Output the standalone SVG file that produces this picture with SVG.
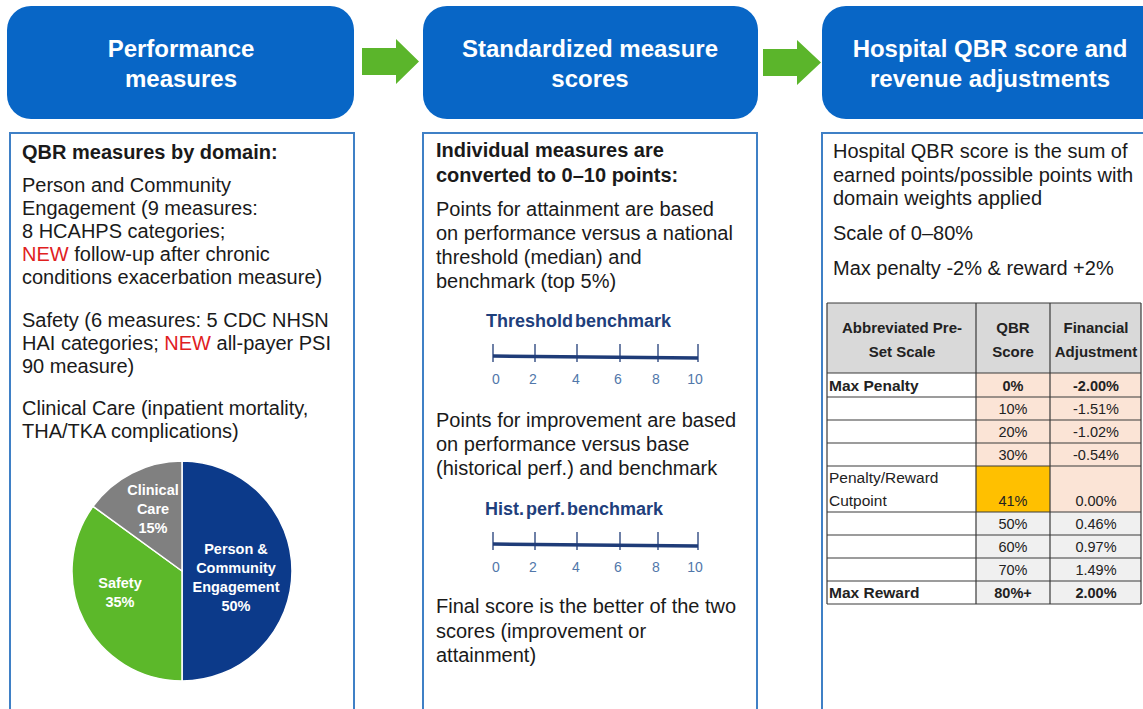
<svg xmlns="http://www.w3.org/2000/svg" width="1143" height="709" viewBox="0 0 1143 709">
<defs>
<style>
.hdr{fill:#0866c6}
.hdrt{fill:#ffffff;font-family:"Liberation Sans",Arial,sans-serif;font-weight:bold;font-size:24px;text-anchor:middle}
.box{fill:#ffffff;stroke:#3f80c6;stroke-width:2}
.t{font-family:"Liberation Sans",Arial,sans-serif;font-size:20px;fill:#1a1a1a}
.b{font-weight:bold}
.new{fill:#e0201e}
.arrow{fill:#5bb52b}
.sl{font-family:"Liberation Sans",Arial,sans-serif;font-size:18px;font-weight:bold;fill:#1f3f7c;word-spacing:-3px}
.axis{stroke:#1f3c78;stroke-width:3.5;fill:none}
.tick{stroke:#1f3c78;stroke-width:1.3}
.num{font-family:"Liberation Sans",Arial,sans-serif;font-size:14px;fill:#5177aa;text-anchor:middle}
.pl{font-family:"Liberation Sans",Arial,sans-serif;font-size:14.5px;font-weight:bold;fill:#ffffff;text-anchor:middle}
.th{font-family:"Liberation Sans",Arial,sans-serif;font-size:15px;font-weight:bold;fill:#222;text-anchor:middle}
.tl{font-family:"Liberation Sans",Arial,sans-serif;font-size:15.5px;fill:#222}
.tv{font-family:"Liberation Sans",Arial,sans-serif;font-size:14.5px;fill:#222;text-anchor:middle}
.grid{stroke:#3a3a3a;stroke-width:1.2}
</style>
</defs>
<rect width="1143" height="709" fill="#ffffff"/>

<g id="connectors">
<polygon class="arrow" points="362,48 396,48 396,39 419,61.5 396,84 396,75 362,75"/>
<polygon class="arrow" points="763,49 797,49 797,40 821,62.5 797,85 797,76 763,76"/>
</g>

<g id="node-performance">
<rect class="hdr" x="7" y="6" width="347" height="113" rx="24"/>
<text class="hdrt" x="181" y="57">Performance</text>
<text class="hdrt" x="181" y="87">measures</text>
<rect class="box" x="10" y="133" width="344" height="590"/>
<text class="t b" x="22" y="159">QBR measures by domain:</text>
<text class="t" x="22" y="192">Person and Community</text>
<text class="t" x="22" y="215">Engagement (9 measures:</text>
<text class="t" x="22" y="238">8 HCAHPS categories;</text>
<text class="t" x="22" y="261"><tspan class="new">NEW</tspan> follow-up after chronic</text>
<text class="t" x="22" y="284">conditions exacerbation measure)</text>
<text class="t" x="22" y="327">Safety (6 measures: 5 CDC NHSN</text>
<text class="t" x="22" y="350">HAI categories; <tspan class="new">NEW</tspan> all-payer PSI</text>
<text class="t" x="22" y="373">90 measure)</text>
<text class="t" x="22" y="415">Clinical Care (inpatient mortality,</text>
<text class="t" x="22" y="438">THA/TKA complications)</text>
<g id="pie">
<path d="M182,571 L182,461 A110,110 0 0 1 182,681 Z" fill="#0c3a8a" stroke="#ffffff" stroke-width="1.5"/>
<path d="M182,571 L182,681 A110,110 0 0 1 93.01,506.34 Z" fill="#5cb82a" stroke="#ffffff" stroke-width="1.5"/>
<path d="M182,571 L93.01,506.34 A110,110 0 0 1 182,461 Z" fill="#808080" stroke="#ffffff" stroke-width="1.5"/>
<text class="pl" x="153" y="495">Clinical</text>
<text class="pl" x="153" y="514">Care</text>
<text class="pl" x="153" y="533">15%</text>
<text class="pl" x="236" y="554">Person &amp;</text>
<text class="pl" x="236" y="573">Community</text>
<text class="pl" x="236" y="592">Engagement</text>
<text class="pl" x="236" y="611">50%</text>
<text class="pl" x="120" y="588">Safety</text>
<text class="pl" x="120" y="607">35%</text>
</g>
</g>

<g id="node-standardized">
<rect class="hdr" x="423" y="6" width="335" height="113" rx="24"/>
<text class="hdrt" x="590" y="57">Standardized measure</text>
<text class="hdrt" x="590" y="87">scores</text>
<rect class="box" x="423" y="133" width="334" height="590"/>
<text class="t b" x="436" y="157">Individual measures are</text>
<text class="t b" x="436" y="182">converted to 0–10 points:</text>
<text class="t" x="436" y="216">Points for attainment are based</text>
<text class="t" x="436" y="240">on performance versus a national</text>
<text class="t" x="436" y="264">threshold (median) and</text>
<text class="t" x="436" y="288">benchmark (top 5%)</text>
<text class="sl" x="486" y="327">Threshold benchmark</text>
<g id="scale-attainment">
<line class="axis" x1="493" y1="356" x2="698" y2="358"/>
<line class="tick" x1="493" y1="344" x2="493" y2="362"/>
<line class="tick" x1="535" y1="344" x2="535" y2="362"/>
<line class="tick" x1="577" y1="344" x2="577" y2="362"/>
<line class="tick" x1="620" y1="344" x2="620" y2="362"/>
<line class="tick" x1="658" y1="344" x2="658" y2="362"/>
<line class="tick" x1="698" y1="344" x2="698" y2="362"/>
<text class="num" x="496" y="384">0</text>
<text class="num" x="533" y="384">2</text>
<text class="num" x="576" y="384">4</text>
<text class="num" x="618" y="384">6</text>
<text class="num" x="656" y="384">8</text>
<text class="num" x="695" y="384">10</text>
</g>
<text class="t" x="436" y="427">Points for improvement are based</text>
<text class="t" x="436" y="451">on performance versus base</text>
<text class="t" x="436" y="475">(historical perf.) and benchmark</text>
<text class="sl" x="485" y="515">Hist. perf. benchmark</text>
<g id="scale-improvement">
<line class="axis" x1="493" y1="544" x2="698" y2="546"/>
<line class="tick" x1="493" y1="532" x2="493" y2="550"/>
<line class="tick" x1="535" y1="532" x2="535" y2="550"/>
<line class="tick" x1="577" y1="532" x2="577" y2="550"/>
<line class="tick" x1="620" y1="532" x2="620" y2="550"/>
<line class="tick" x1="658" y1="532" x2="658" y2="550"/>
<line class="tick" x1="698" y1="532" x2="698" y2="550"/>
<text class="num" x="496" y="572">0</text>
<text class="num" x="533" y="572">2</text>
<text class="num" x="576" y="572">4</text>
<text class="num" x="618" y="572">6</text>
<text class="num" x="656" y="572">8</text>
<text class="num" x="695" y="572">10</text>
</g>
<text class="t" x="436" y="613">Final score is the better of the two</text>
<text class="t" x="436" y="638">scores (improvement or</text>
<text class="t" x="436" y="662">attainment)</text>
</g>

<g id="node-hospital">
<rect class="hdr" x="822" y="6" width="345" height="113" rx="24"/>
<text class="hdrt" x="990" y="57">Hospital QBR score and</text>
<text class="hdrt" x="990" y="87">revenue adjustments</text>
<rect class="box" x="822" y="133" width="340" height="590"/>
<text class="t" x="833" y="158">Hospital QBR score is the sum of</text>
<text class="t" x="833" y="182">earned points/possible points with</text>
<text class="t" x="833" y="205">domain weights applied</text>
<text class="t" x="833" y="240">Scale of 0–80%</text>
<text class="t" x="833" y="275">Max penalty -2% &amp; reward +2%</text>
<g id="table">
<rect x="827" y="303" width="314" height="70" fill="#d9d9d9"/>
<rect x="827" y="373" width="149" height="231" fill="#ffffff"/>
<rect x="976" y="373" width="165" height="139" fill="#fbe4d6"/>
<rect x="976" y="466" width="74" height="46" fill="#ffc000"/>
<rect x="976" y="512" width="165" height="92" fill="#f0f0f0"/>
<g class="grid">
<line x1="827" y1="303" x2="1141" y2="303"/>
<line x1="827" y1="373" x2="1141" y2="373"/>
<line x1="827" y1="397" x2="1141" y2="397"/>
<line x1="827" y1="420" x2="1141" y2="420"/>
<line x1="827" y1="443" x2="1141" y2="443"/>
<line x1="827" y1="466" x2="1141" y2="466"/>
<line x1="827" y1="512" x2="1141" y2="512"/>
<line x1="827" y1="535" x2="1141" y2="535"/>
<line x1="827" y1="558" x2="1141" y2="558"/>
<line x1="827" y1="581" x2="1141" y2="581"/>
<line x1="827" y1="604" x2="1141" y2="604"/>
<line x1="827" y1="303" x2="827" y2="604"/>
<line x1="976" y1="303" x2="976" y2="604"/>
<line x1="1050" y1="303" x2="1050" y2="604"/>
<line x1="1141" y1="303" x2="1141" y2="604"/>
</g>
<text class="th" x="902" y="333">Abbreviated Pre-</text>
<text class="th" x="902" y="357">Set Scale</text>
<text class="th" x="1013" y="333">QBR</text>
<text class="th" x="1013" y="357">Score</text>
<text class="th" x="1096" y="333">Financial</text>
<text class="th" x="1096" y="357">Adjustment</text>
<text class="tl b" x="829" y="391">Max Penalty</text>
<text class="tv b" x="1013" y="391">0%</text>
<text class="tv b" x="1096" y="391">-2.00%</text>
<text class="tv" x="1013" y="414">10%</text>
<text class="tv" x="1096" y="414">-1.51%</text>
<text class="tv" x="1013" y="437">20%</text>
<text class="tv" x="1096" y="437">-1.02%</text>
<text class="tv" x="1013" y="460">30%</text>
<text class="tv" x="1096" y="460">-0.54%</text>
<text class="tl" x="829" y="483">Penalty/Reward</text>
<text class="tl" x="829" y="506">Cutpoint</text>
<text class="tv" x="1013" y="506">41%</text>
<text class="tv" x="1096" y="506">0.00%</text>
<text class="tv" x="1013" y="529">50%</text>
<text class="tv" x="1096" y="529">0.46%</text>
<text class="tv" x="1013" y="552">60%</text>
<text class="tv" x="1096" y="552">0.97%</text>
<text class="tv" x="1013" y="575">70%</text>
<text class="tv" x="1096" y="575">1.49%</text>
<text class="tl b" x="829" y="598">Max Reward</text>
<text class="tv b" x="1013" y="598">80%+</text>
<text class="tv b" x="1096" y="598">2.00%</text>
</g>
</g>
</svg>
